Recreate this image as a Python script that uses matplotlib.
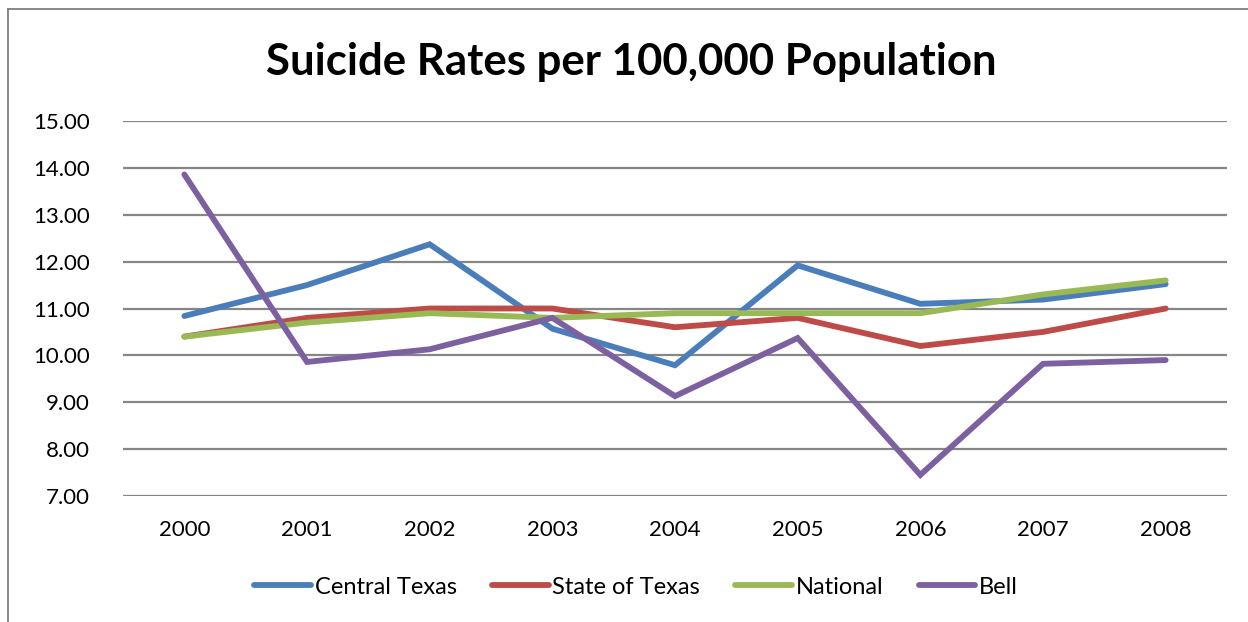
# ---------- IMPORT ------------
import matplotlib
matplotlib.use("Agg")
import matplotlib.pyplot as plt
from matplotlib.lines import Line2D
# ------------------------------


# ---------- DATA --------------
years = ["2000", "2001", "2002", "2003", "2004", "2005", "2006", "2007", "2008"]
central_texas = [10.84, 11.50, 12.37, 10.57, 9.79, 11.92, 11.10, 11.19, 11.52]
state_of_texas = [10.40, 10.80, 11.00, 11.00, 10.60, 10.80, 10.20, 10.50, 11.00]
national = [10.40, 10.70, 10.90, 10.80, 10.90, 10.90, 10.90, 11.30, 11.60]
bell = [13.86, 9.86, 10.13, 10.80, 9.13, 10.37, 7.45, 9.82, 9.90]
y_ticks = [7, 8, 9, 10, 11, 12, 13, 14, 15]
# ------------------------------


# ---------- CONFIG ------------
c = ["#4A7EBB", "#BE4B48", "#98B954", "#7D60A0"]
grid_color = "#868686"
plt.rcParams["font.family"] = ["Lato", "DejaVu Sans"]
# ------------------------------

fig = plt.figure(figsize=(12.48, 6.22), dpi=100)
ax = fig.add_axes([123 / 1248, 1 - 496 / 622, (1227 - 123) / 1248, (496 - 121) / 622])

x = list(range(len(years)))
series = [("Central Texas", central_texas), ("State of Texas", state_of_texas),
          ("National", national), ("Bell", bell)]
for i, (name, vals) in enumerate(series):
    ax.plot(x, vals, color=c[i], lw=4.2, solid_capstyle="round", solid_joinstyle="miter",
            label=name, zorder=3 + i)

ax.set_xlim(-0.5, len(years) - 0.5)
ax.set_ylim(7, 15)
ax.set_yticks(y_ticks)
ax.set_yticklabels(["%.2f" % v for v in y_ticks], fontsize=16)
ax.set_xticks(x)
ax.set_xticklabels(years, fontsize=16)
ax.tick_params(axis="both", length=0)
ax.tick_params(axis="x", pad=17)
ax.tick_params(axis="y", pad=24)
for v in y_ticks:
    ax.axhline(v, color=grid_color, lw=1.6, zorder=1)
for s in ax.spines.values():
    s.set_visible(False)

fig.text(631 / 1248, 1 - 62 / 622, "Suicide Rates per 100,000 Population",
         fontsize=31.5, fontweight="bold", ha="center", va="center")

handles = [Line2D([0], [0], color=c[i], lw=4.2, solid_capstyle="round") for i in range(4)]
leg = fig.legend(handles, [s[0] for s in series], loc="center", ncol=4,
                 bbox_to_anchor=(636 / 1248, 1 - 587 / 622), frameon=False,
                 fontsize=17, handlelength=2.4, handletextpad=0.15, columnspacing=1.5)

# outer chart border (top and left visible)
fig.add_artist(Line2D([8 / 1248, 1.0], [1 - 9 / 622, 1 - 9 / 622], color="#7F7F7F", lw=1.3))
fig.add_artist(Line2D([8 / 1248, 8 / 1248], [0.0, 1 - 9 / 622], color="#7F7F7F", lw=1.3))

fig.savefig("out.png", dpi=100)
